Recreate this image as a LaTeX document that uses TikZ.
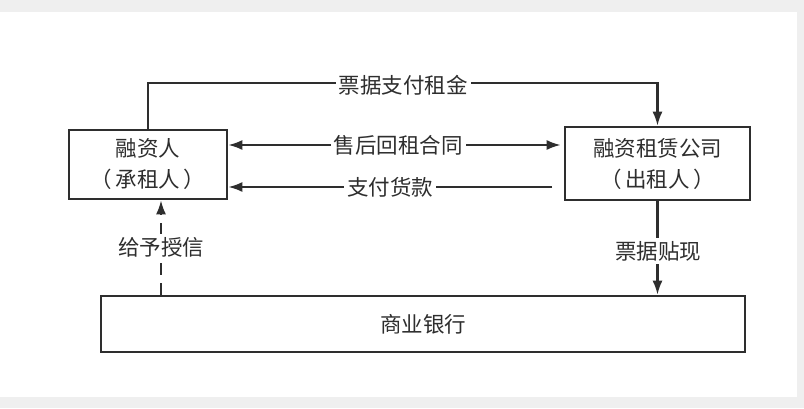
\documentclass[tikz,border=0pt]{standalone}
\usepackage{fontspec}
\setmainfont{Noto Sans CJK SC}
\usepackage{tikz}
\usetikzlibrary{arrows,arrows.meta}
\usetikzlibrary{positioning}
\definecolor{ink}{HTML}{2E2E2E}
\definecolor{frame}{HTML}{EFEFEF}
\tikzstyle{party}=[draw=ink,line width=2.6pt,align=center,inner sep=0pt,text=ink,font=\fontsize{21.5}{31}\selectfont]
\tikzstyle{tag}=[fill=white,inner sep=3pt,text=ink,font=\fontsize{21.5}{24}\selectfont]
\tikzstyle{flow}=[draw=ink,line width=2.2pt,-{Latex[length=14pt,width=10pt]}]

\begin{document}
\begin{tikzpicture}[x=1pt,y=-1pt]
		\fill[frame] (0,0) rectangle (804,408);
		\fill[white] (0,12) rectangle (797,397);
		\useasboundingbox (0,0) rectangle (804,408);
		
		\node[party,minimum width=158pt,minimum height=69pt] (lessee) at (148,164.5) {融资人\\（\,承租人\,）};
		\node[party,minimum width=185pt,minimum height=73pt] (lessor) at (657.5,163.5) {融资租赁公司\\（\,出租人\,）};
		\node[party,minimum width=644pt,minimum height=56pt] (bank) at (423,324) {商业银行};
		
		\coordinate (rent) at (403,83);
		\coordinate (contract) at (398,145);
		\coordinate (pay) at (552,187);
		
		\draw[flow,-] (lessee.north) |- (rent);
		\draw[flow] (rent) -| (lessor.north);
		\node[tag] (rentlabel) at (403,85) {票据支付租金};
		
		\draw[flow,{Latex[length=14pt,width=10pt]}-{Latex[length=14pt,width=10pt]}] (lessee.east |- contract) -- ([xshift=-3pt]lessor.west |- contract);
		\node[tag] (contractlabel) at (398,145) {售后回租合同};
		
		\draw[flow] (pay) -- (lessee.east |- pay);
		\node[tag] (paylabel) at (390,187) {支付货款};
		
		\draw[flow,dash pattern=on 12pt off 8pt] (bank.north -| 161,0) -- (lessee.south -| 161,0);
		\node[tag] (creditlabel) at (161,247) {给予授信};
		
		\draw[flow] (lessor.south) -- (bank.north -| lessor.south);
		\node[tag] (discountlabel) at (658,251) {票据贴现};
		
\end{tikzpicture}
\end{document}
